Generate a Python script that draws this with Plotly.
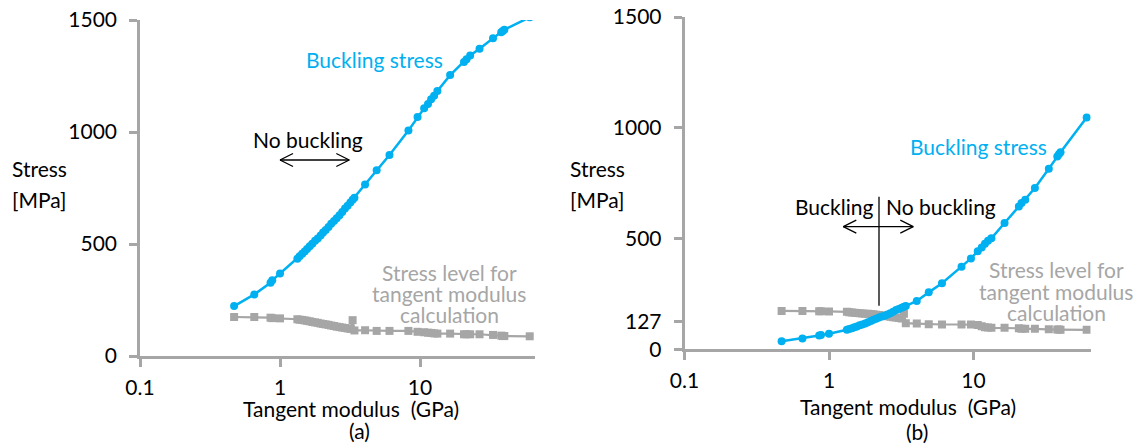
import plotly.graph_objects as go

# ---- data ----
modulus = [0.47, 0.655, 0.855, 0.88, 1.0, 1.33, 1.38, 1.44, 1.5, 1.56, 1.63, 1.7, 1.78, 1.86,
           1.95, 2.03, 2.12, 2.22, 2.32, 2.43, 2.54, 2.66, 2.78, 2.91, 3.04, 3.18, 3.3, 3.4,
           4.05, 4.9, 6.05, 8.26, 9.6, 10.7, 11.4, 12.0, 12.6, 13.3, 16.4, 20.6, 21.5, 22.8,
           26.6, 33.2, 38.0, 39.0, 40.0, 60.7]

buckling_a = [223, 275, 327, 338, 368, 434, 445, 456, 467, 478, 490, 501, 514, 525, 538, 551,
              563, 576, 590, 603, 615, 628, 643, 658, 671, 685, 698, 707, 766, 829, 897, 1007,
              1067, 1106, 1125, 1146, 1162, 1183, 1254, 1313, 1325, 1342, 1372, 1418, 1445,
              1451, 1457, 1512]
stress_level_a = [174, 174, 171, 169, 168, 164, 162, 161, 159, 157, 155, 152, 150, 148, 145, 143,
                  141, 139, 136, 134, 131, 129, 127, 125, 123, 121, 160, 114, 115, 112, 112, 112,
                  108, 106, 104, 103, 101, 100, 100, 97, 97, 97, 97, 94, 91, 89, 89, 88]

buckling_b = [36, 49, 62, 64, 70, 88, 92, 95, 99, 103, 108, 112, 117, 122, 128, 133, 138, 143,
              148, 152, 157, 163, 170, 177, 182, 187, 192, 196, 218, 257, 298, 373, 410, 443,
              460, 476, 490, 501, 570, 645, 660, 675, 728, 815, 870, 880, 890, 1046]
stress_level_b = [173, 173, 172, 172, 171, 169, 167, 166, 165, 164, 163, 162, 161, 160, 159, 158,
                  156, 155, 153, 151, 149, 147, 145, 143, 141, 139, 160, 118, 116, 113, 112, 112,
                  112, 110, 104, 100, 98, 97, 97, 95, 93, 93, 93, 90, 89, 89, 88, 88]

x_tickvals = [0.1, 1, 10]
x_ticktext = ["0.1", "1", "10"]
y_ticks_a = [0, 500, 1000, 1500]
y_ticks_b = [0, 127, 500, 1000, 1500]

# ---- styling ----
W, H = 1138, 446
BLUE = "#00B0F0"
GRAY = "#A6A6A6"
AXIS = "#A6A6A6"
FONT = "Lato"
FS = 21


def px(x):
    return x / W


def py(y):
    return 1 - y / H


fig = go.Figure()

for xa, ya, buck, lvl in [("x", "y", buckling_a, stress_level_a),
                          ("x2", "y2", buckling_b, stress_level_b)]:
    fig.add_trace(go.Scatter(x=modulus, y=lvl, xaxis=xa, yaxis=ya, mode="lines+markers",
                             line=dict(color=GRAY, width=2.2),
                             marker=dict(symbol="square", size=8, color=GRAY),
                             showlegend=False, hoverinfo="skip"))
    fig.add_trace(go.Scatter(x=modulus, y=buck, xaxis=xa, yaxis=ya, mode="lines+markers",
                             line=dict(color=BLUE, width=2.5),
                             marker=dict(symbol="circle", size=8, color=BLUE),
                             showlegend=False, hoverinfo="skip"))

axis_common = dict(showline=True, linecolor=AXIS, linewidth=2.5, ticks="outside", ticklen=8,
                   tickwidth=2.5, tickcolor=AXIS, showgrid=False, zeroline=False,
                   automargin=False,
                   tickfont=dict(family=FONT, size=FS, color="#000000"))

fig.update_layout(
    width=W, height=H, margin=dict(l=0, r=0, t=0, b=0, pad=0, autoexpand=False),
    autosize=False,
    paper_bgcolor="white", plot_bgcolor="white",
    font=dict(family=FONT, size=FS, color="#000000"),
    xaxis=dict(domain=[px(140), px(535)], type="log", range=[-1, 1.821],
               tickvals=x_tickvals, ticktext=x_ticktext, anchor="y",
               ticklabelstandoff=3, **axis_common),
    yaxis=dict(domain=[py(356), py(20)], range=[0, 1500], tickvals=y_ticks_a,
               anchor="x", ticklabelstandoff=8, **axis_common),
    xaxis2=dict(domain=[px(684.5), px(1090.7)], type="log", range=[-1, 1.811],
                tickvals=x_tickvals, ticktext=x_ticktext, anchor="y2",
                ticklabelstandoff=3, **axis_common),
    yaxis2=dict(domain=[py(349.3), py(17)], range=[0, 1500], tickvals=y_ticks_b,
                anchor="x2", ticklabelstandoff=8, **axis_common),
)

annotations = []


def text(t, x, y, color="#000000", xanchor="center"):
    annotations.append(dict(text=t, x=px(x), y=py(y), xref="paper", yref="paper",
                            xanchor=xanchor, yanchor="middle", showarrow=False,
                            font=dict(family=FONT, size=FS, color=color)))


# panel (a)
text("Buckling stress", 374, 60, BLUE)
text("No buckling", 307.5, 139)
text("Stress level for", 449, 272, GRAY)
text("tangent modulus", 449, 293, GRAY)
text("calculation", 449, 314, GRAY)
text("Stress", 10, 168, xanchor="left")
text("[MPa]", 10, 199, xanchor="left")
text("Tangent modulus \u00a0(GPa)", 351, 408)
text("(a)", 359, 430)

# panel (b)
text("Buckling stress", 978.5, 147, BLUE)
text("Buckling", 834, 206)
text("No buckling", 941, 206)
text("Stress level for", 1056, 269, GRAY)
text("tangent modulus", 1056, 291, GRAY)
text("calculation", 1056, 312, GRAY)
text("Stress", 568, 168, xanchor="left")
text("[MPa]", 568, 199, xanchor="left")
text("Tangent modulus \u00a0(GPa)", 908, 406)
text("(b)", 917, 431)

fig.update_layout(annotations=annotations)

shapes = []


def seg(x0, y0, x1, y1):
    shapes.append(dict(type="line", xref="paper", yref="paper", x0=px(x0), y0=py(y0),
                       x1=px(x1), y1=py(y1), line=dict(color="#000000", width=1.3)))


def double_arrow(x0, x1, y, L=13, h=6.5):
    seg(x0, y, x1, y)
    seg(x0, y, x0 + L, y - h)
    seg(x0, y, x0 + L, y + h)
    seg(x1, y, x1 - L, y - h)
    seg(x1, y, x1 - L, y + h)


double_arrow(280, 349.3, 160)
double_arrow(843.3, 913.3, 226.7)
seg(879, 196.7, 879, 305.7)

fig.update_layout(shapes=shapes)

fig.write_html("out.html")
